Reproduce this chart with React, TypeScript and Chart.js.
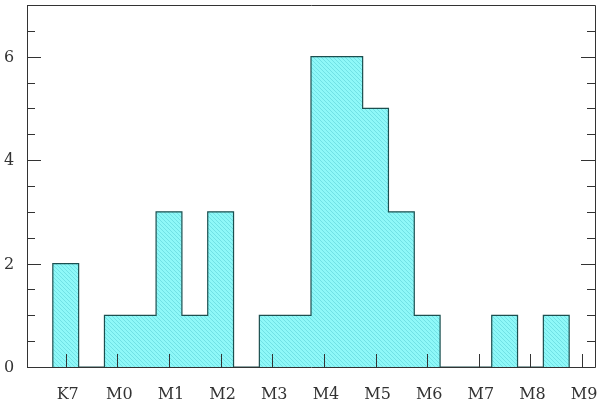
import React, { useEffect, useRef } from "react";
import { Chart, registerables } from "chart.js";

Chart.register(...registerables);

// Spectral subclass index: K7 = 0, M0 = 1, ..., M9 = 10
const tickLabels = ["K7", "M0", "M1", "M2", "M3", "M4", "M5", "M6", "M7", "M8", "M9"];
const tickValues = [0, 1, 2, 3, 4, 5, 6, 7, 8, 9, 10];
// Histogram bins (half-subclass wide), centred on these values
const binCenters = [0, 0.5, 1, 1.5, 2, 2.5, 3, 3.5, 4, 4.5, 5, 5.5, 6, 6.5, 7, 7.5, 8, 8.5, 9, 9.5];
const counts = [2, 0, 1, 1, 3, 1, 3, 0, 1, 1, 6, 6, 5, 3, 1, 0, 0, 1, 0, 1];
const binWidth = 0.5;
const yLabelValues = [0, 2, 4, 6];
const yMinorValues = [0, 0.5, 1, 1.5, 2, 2.5, 3, 3.5, 4, 4.5, 5, 5.5, 6, 6.5, 7];

const FONT = "16px 'DejaVu Serif', 'Liberation Serif', serif";

function makePattern(): CanvasPattern | string {
  const c = document.createElement("canvas");
  c.width = 4;
  c.height = 4;
  const g = c.getContext("2d");
  if (!g) return "#8cf4f4";
  g.fillStyle = "#8ef8f8";
  g.fillRect(0, 0, 4, 4);
  g.strokeStyle = "rgba(70,190,200,0.4)";
  g.lineWidth = 1;
  g.beginPath();
  g.moveTo(-1, -1);
  g.lineTo(5, 5);
  g.moveTo(-1, 3);
  g.lineTo(1, 5);
  g.moveTo(3, -1);
  g.lineTo(5, 1);
  g.stroke();
  const p = g.createPattern(c, "repeat");
  return p || "#8cf4f4";
}

const framePlugin = {
  id: "frameTicks",
  afterDatasetsDraw(chart: any) {
    const { ctx, chartArea } = chart;
    const xs = chart.scales.x;
    const ys = chart.scales.y;
    const { left, right, top, bottom } = chartArea;
    ctx.save();
    ctx.strokeStyle = "#333333";
    ctx.lineWidth = 1;
    ctx.beginPath();
    ctx.rect(Math.round(left) + 0.5, Math.round(top) + 0.5, Math.round(right - left), Math.round(bottom - top));
    ctx.stroke();
    ctx.beginPath();
    yMinorValues.forEach((v) => {
      const y = Math.round(ys.getPixelForValue(v)) + 0.5;
      const len = yLabelValues.includes(v) ? 14 : 8;
      ctx.moveTo(left, y);
      ctx.lineTo(left + len, y);
      ctx.moveTo(right, y);
      ctx.lineTo(right - len, y);
    });
    tickValues.forEach((v) => {
      const x = Math.round(xs.getPixelForValue(v)) + 0.5;
      ctx.moveTo(x, bottom);
      ctx.lineTo(x, bottom - 13);
    });
    ctx.stroke();

    ctx.fillStyle = "#333";
    ctx.font = FONT;
    ctx.textAlign = "center";
    ctx.textBaseline = "middle";
    yLabelValues.forEach((v) => {
      ctx.fillText(String(v), 9, ys.getPixelForValue(v) + 1);
    });
    ctx.textBaseline = "alphabetic";
    tickValues.forEach((v, i) => {
      ctx.fillText(tickLabels[i], xs.getPixelForValue(v) + 2, bottom + 32);
    });
    ctx.restore();
  },
};

export default function App() {
  const ref = useRef<HTMLCanvasElement | null>(null);

  useEffect(() => {
    document.body.style.margin = "0";
    const canvas = ref.current;
    if (!canvas) return;
    const first = binCenters[0] - binWidth / 2;
    const pts: { x: number; y: number }[] = [{ x: first, y: 0 }];
    binCenters.forEach((c, i) => pts.push({ x: c - binWidth / 2, y: counts[i] }));
    const last = binCenters.length - 1;
    pts.push({ x: binCenters[last] + binWidth / 2, y: 0 });

    const chart = new Chart(canvas, {
      type: "line",
      data: {
        datasets: [
          {
            data: pts,
            stepped: "before",
            fill: "origin",
            backgroundColor: makePattern() as any,
            borderColor: "#1c4f4f",
            borderWidth: 1.2,
            pointRadius: 0,
          },
        ],
      },
      options: {
        animation: false,
        responsive: false,
        layout: { padding: { top: 5, right: 5, left: 0, bottom: 0 } },
        plugins: { legend: { display: false }, tooltip: { enabled: false } },
        scales: {
          x: {
            type: "linear",
            min: -0.75,
            max: 10.25,
            grid: { display: false, drawTicks: false },
            border: { display: false },
            ticks: { display: false },
            afterFit: (s: any) => {
              s.height = 34;
            },
          },
          y: {
            type: "linear",
            min: 0,
            max: 7,
            grid: { display: false, drawTicks: false },
            border: { display: false },
            ticks: { display: false },
            afterFit: (s: any) => {
              s.width = 27;
            },
          },
        },
      },
      plugins: [framePlugin],
    });
    return () => chart.destroy();
  }, []);

  return (
    <div style={{ width: 600, height: 401, background: "#fff" }}>
      <canvas ref={ref} width={600} height={401} />
    </div>
  );
}
